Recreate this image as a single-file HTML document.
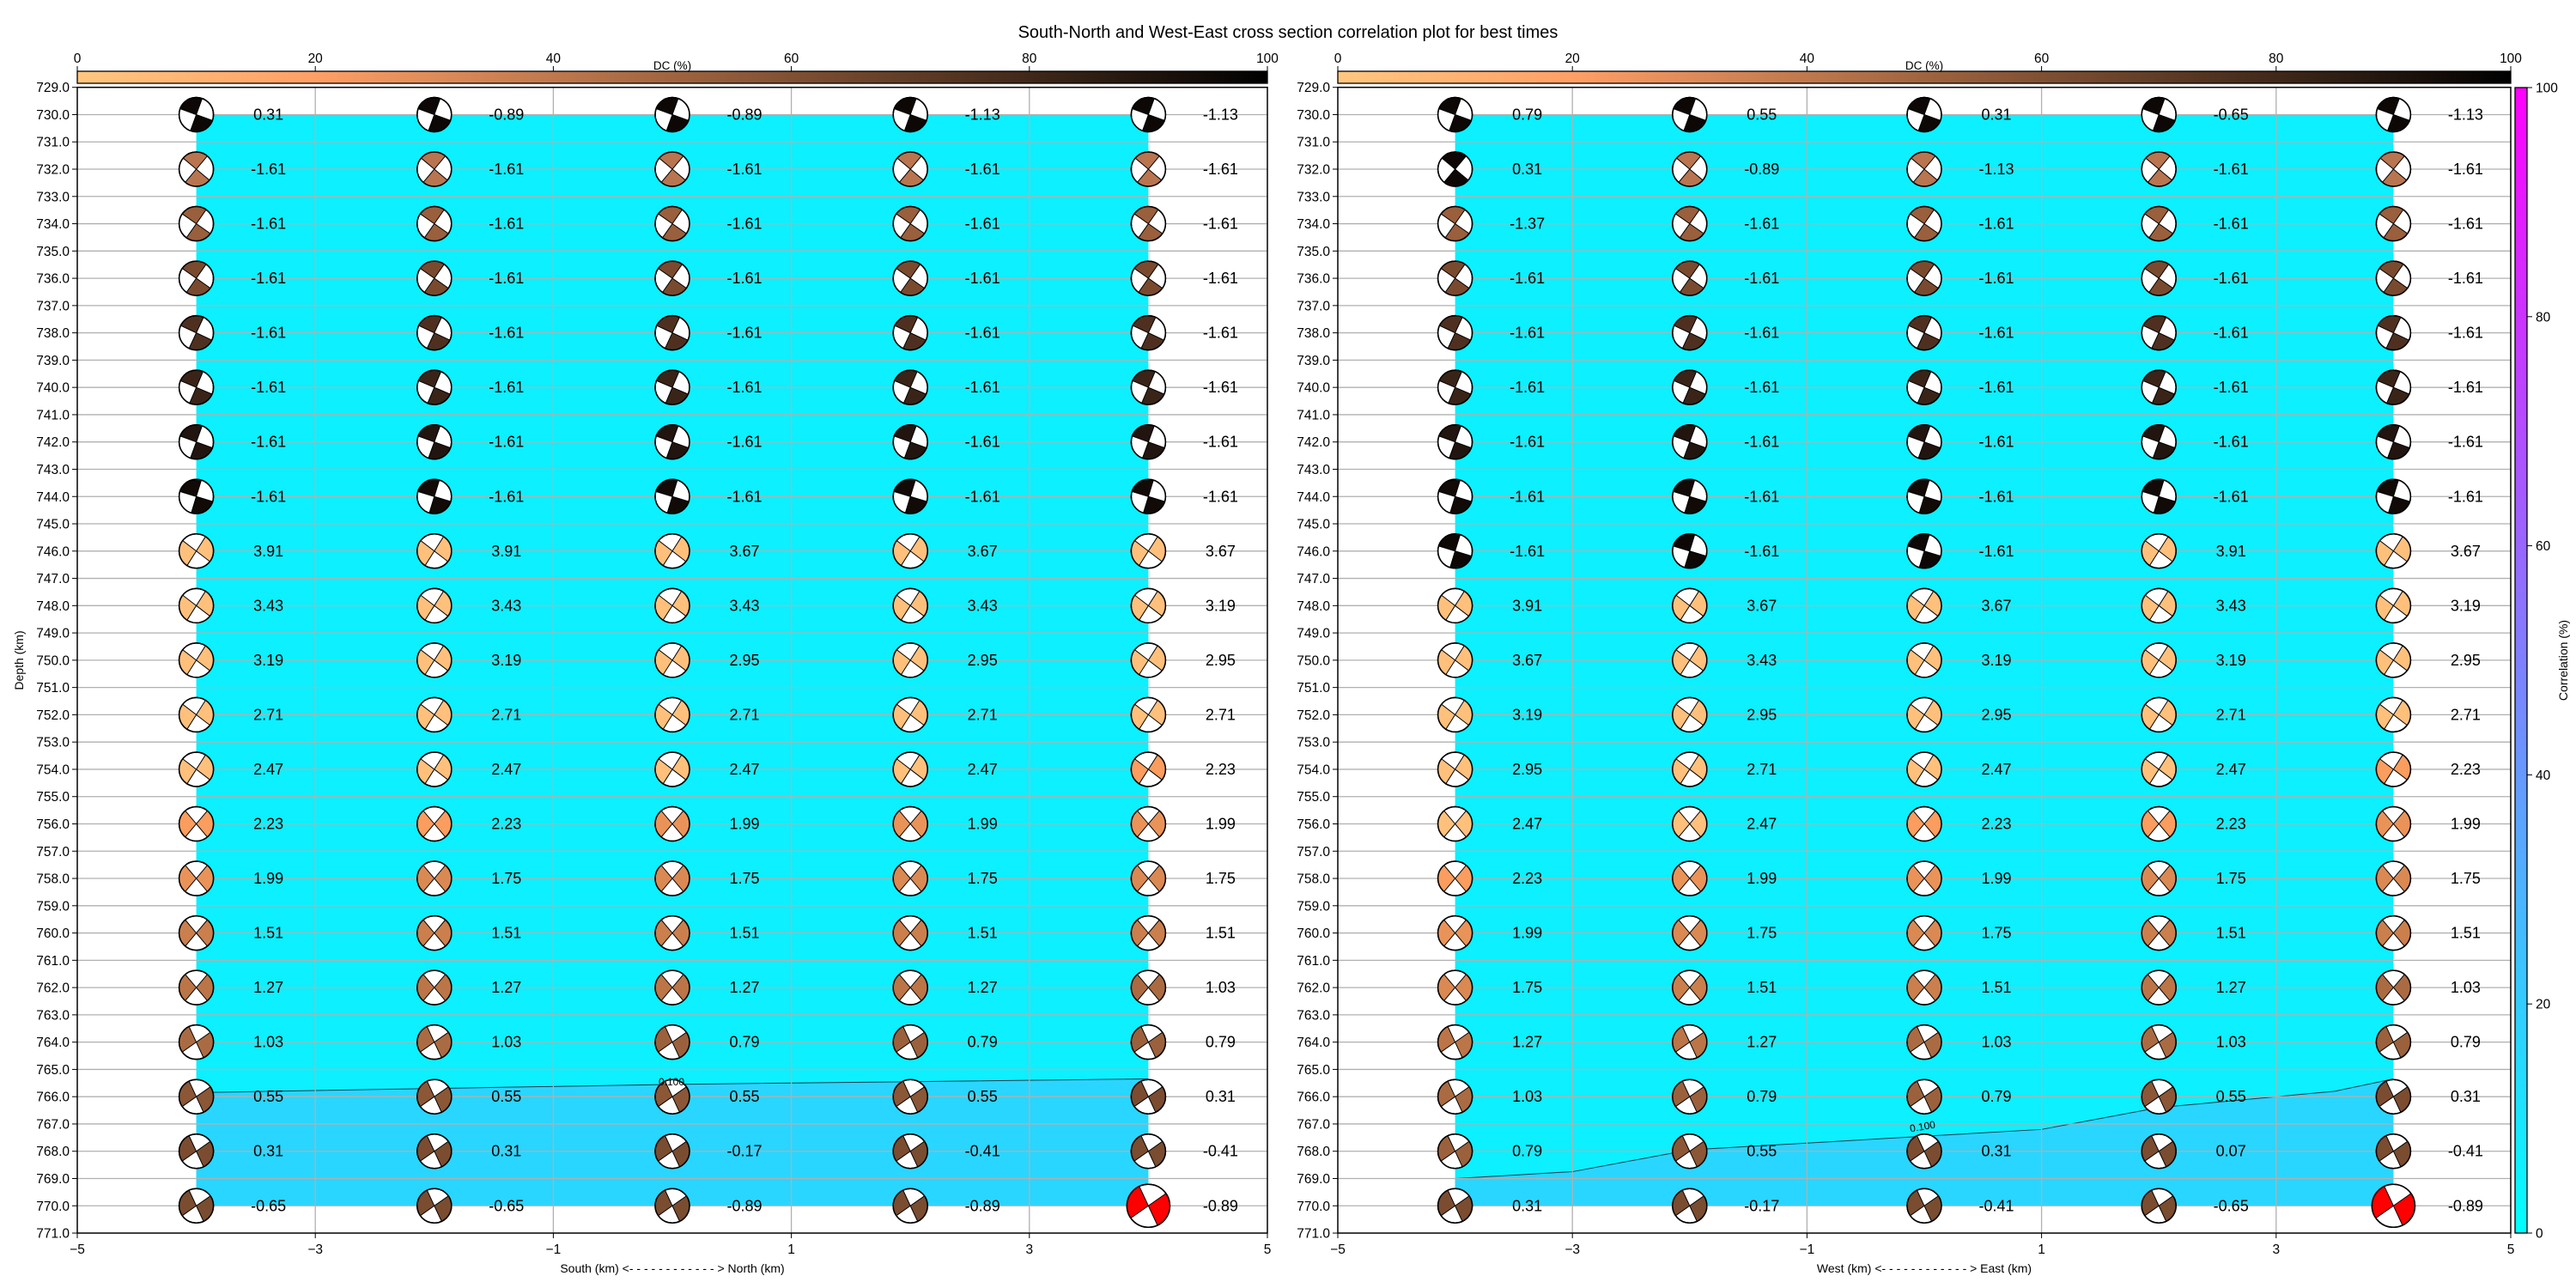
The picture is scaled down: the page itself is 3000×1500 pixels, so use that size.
<!DOCTYPE html>
<html><head><meta charset="utf-8"><style>body{margin:0;background:#fff}svg{display:block}text{font-family:"Liberation Sans","DejaVu Sans",sans-serif}</style></head>
<body>
<svg id="s" width="3000" height="1500" xmlns="http://www.w3.org/2000/svg"></svg>
<script>
const S=document.getElementById('s');let h='';
const Y=d=>101.7+(d-729)*31.77;
function copper(t){const u=1-t;return `rgb(${Math.round(255*Math.min(1,1.25*u))},${Math.round(255*0.7812*u)},${Math.round(255*0.4975*u)})`;}
function sector(cx,cy,r,a,w,col){const a1=(a-w/2)*Math.PI/180,a2=(a+w/2)*Math.PI/180;
 return `<path d="M${cx},${cy} L${cx+r*Math.cos(a1)},${cy+r*Math.sin(a1)} A${r},${r} 0 0 1 ${cx+r*Math.cos(a2)},${cy+r*Math.sin(a2)} Z" fill="${col}" stroke="#000" stroke-width="1"/>`;}
function ball(cx,cy,r,a,w,col){return `<circle cx="${cx}" cy="${cy}" r="${r}" fill="#fff" stroke="#000" stroke-width="1.5"/>`+sector(cx,cy,r,a,w,col)+sector(cx,cy,r,a+180,w,col)+`<circle cx="${cx}" cy="${cy}" r="${r}" fill="none" stroke="#000" stroke-width="1.5"/>`;}
const upCol={730:'#0d0806',732:'#b87550',734:'#9a5f3c',736:'#7a4a2f',738:'#4f3020',740:'#3a2418',742:'#22140e',744:'#110a06',746:'#0d0806'};
const upAng={730:-115,732:-95,734:-100,736:-100,738:-110,740:-112,742:-115,744:-118,746:-118};
function lowCol(v){if(v>=2.4)return '#ffc07c';const t=Math.max(0,Math.min(1,(v-0.3)/2.0));
 const a=[0x7a,0x4c,0x30],b=[0xff,0xa0,0x60];return `rgb(${a.map((x,i)=>Math.round(x+(b[i]-x)*t)).join(',')})`;}
const L={730:[0.31,-0.89,-0.89,-1.13,-1.13],746:[3.91,3.91,3.67,3.67,3.67],748:[3.43,3.43,3.43,3.43,3.19],750:[3.19,3.19,2.95,2.95,2.95],752:[2.71,2.71,2.71,2.71,2.71],754:[2.47,2.47,2.47,2.47,2.23],756:[2.23,2.23,1.99,1.99,1.99],758:[1.99,1.75,1.75,1.75,1.75],760:[1.51,1.51,1.51,1.51,1.51],762:[1.27,1.27,1.27,1.27,1.03],764:[1.03,1.03,0.79,0.79,0.79],766:[0.55,0.55,0.55,0.55,0.31],768:[0.31,0.31,-0.17,-0.41,-0.41],770:[-0.65,-0.65,-0.89,-0.89,-0.89]};
for(let d=732;d<=744;d+=2)L[d]=[-1.61,-1.61,-1.61,-1.61,-1.61];
const R={730:[0.79,0.55,0.31,-0.65,-1.13],732:[0.31,-0.89,-1.13,-1.61,-1.61],734:[-1.37,-1.61,-1.61,-1.61,-1.61],746:[-1.61,-1.61,-1.61,3.91,3.67],748:[3.91,3.67,3.67,3.43,3.19],750:[3.67,3.43,3.19,3.19,2.95],752:[3.19,2.95,2.95,2.71,2.71],754:[2.95,2.71,2.47,2.47,2.23],756:[2.47,2.47,2.23,2.23,1.99],758:[2.23,1.99,1.99,1.75,1.75],760:[1.99,1.75,1.75,1.51,1.51],762:[1.75,1.51,1.51,1.27,1.03],764:[1.27,1.27,1.03,1.03,0.79],766:[1.03,0.79,0.79,0.55,0.31],768:[0.79,0.55,0.31,0.07,-0.41],770:[0.31,-0.17,-0.41,-0.65,-0.89]};
for(let d=736;d<=744;d+=2)R[d]=[-1.61,-1.61,-1.61,-1.61,-1.61];
function panel(x0,x1,vals,contour,xlabel,right){
 const X=v=>x0+(v+5)*(x1-x0)/10;
 h+=`<rect x="${X(-4)}" y="${Y(730)}" width="${X(4)-X(-4)}" height="${Y(770)-Y(730)}" fill="#0cf0ff"/>`;
 let p=`M${X(-4)},${Y(770)} `+contour.map(c=>`L${X(c[0])},${Y(c[1])}`).join(' ')+` L${X(4)},${Y(770)} Z`;
 h+=`<path d="${p}" fill="#29d6ff"/>`;
 h+=`<polyline points="${contour.map(c=>X(c[0])+','+Y(c[1])).join(' ')}" fill="none" stroke="#1a3a50" stroke-width="1"/>`;
 for(let d=730;d<=770;d++)h+=`<line x1="${x0}" x2="${x1}" y1="${Y(d)}" y2="${Y(d)}" stroke="#b0b0b0" stroke-width="1.3"/>`;
 for(const v of [-3,-1,1,3])h+=`<line x1="${X(v)}" x2="${X(v)}" y1="${Y(729)}" y2="${Y(771)}" stroke="#b0b0b0" stroke-width="1.3"/>`;
 for(let d=730;d<=770;d+=2){const row=vals[d];for(let i=0;i<5;i++){const v=row[i];const cx=X(-4+2*i),cy=Y(d);
  let col,a,w=90,r=20;
  const upper=d<746||(d==746&&v<0);
  if(upper){col=upCol[d];a=upAng[d];if(right&&(d==730||(d==732&&i==0)))col='#0d0806';if(d==746)col='#0d0806';}
  else{col=lowCol(v);a=d<756?170:(d<764?180:195);w=d<756?95:100;}
  if(d==770&&i==4){col='#ff0000';r=25;a=195;}
  h+=ball(cx,cy,r,a,w,col);
  h+=`<text x="${cx+84}" y="${cy+6}" font-size="18" text-anchor="middle">${v.toFixed(2)}</text>`;}}
 h+=`<rect x="${x0}" y="${Y(729)}" width="${x1-x0}" height="${Y(771)-Y(729)}" fill="none" stroke="#000" stroke-width="1.5"/>`;
 for(let d=729;d<=771;d++){h+=`<line x1="${x0-6}" x2="${x0}" y1="${Y(d)}" y2="${Y(d)}" stroke="#000"/>`;
  h+=`<text x="${x0-9}" y="${Y(d)+5.5}" font-size="15.5" text-anchor="end">${d}.0</text>`;}
 for(const v of [-5,-3,-1,1,3,5]){h+=`<line x1="${X(v)}" x2="${X(v)}" y1="${Y(771)}" y2="${Y(771)+6}" stroke="#000"/>`;
  h+=`<text x="${X(v)}" y="${Y(771)+24}" font-size="15.5" text-anchor="middle">${v<0?'\u2212'+(-v):v}</text>`;}
 h+=`<text x="${(x0+x1)/2}" y="1482" font-size="14" text-anchor="middle">${xlabel}</text>`;
 h+=`<rect x="${x0}" y="83" width="${x1-x0}" height="14" fill="url(#dc)" stroke="#000" stroke-width="1.3"/>`;
 for(let k=0;k<=100;k+=20){const xx=x0+k/100*(x1-x0);h+=`<line x1="${xx}" x2="${xx}" y1="77" y2="83" stroke="#000"/><text x="${xx}" y="73" font-size="15.5" text-anchor="middle">${k}</text>`;}
 h+=`<text x="${(x0+x1)/2}" y="81" font-size="13.5" text-anchor="middle">DC (%)</text>`;
}
let stops='';for(let k=0;k<=10;k++)stops+=`<stop offset="${k/10}" stop-color="${copper(k/10)}"/>`;
h+=`<defs><linearGradient id="dc">${stops}</linearGradient><linearGradient id="cool" x1="0" y1="1" x2="0" y2="0"><stop offset="0" stop-color="#00ffff"/><stop offset="1" stop-color="#ff00ff"/></linearGradient></defs>`;
panel(90,1476,L,[[-4,765.85],[-2,765.7],[0,765.55],[2,765.45],[4,765.35]],'South (km) &lt;- - - - - - - - - - - - &gt; North (km)',false);
panel(1558,2924,R,[[-4,769.0],[-3,768.75],[-2,767.95],[-1,767.7],[0,767.45],[1,767.2],[2,766.4],[3,766.0],[3.5,765.8],[4,765.35]],'West (km) &lt;- - - - - - - - - - - - &gt; East (km)',true);
h+=`<text x="782" y="1264" font-size="12" text-anchor="middle">0.100</text>`;
h+=`<text x="2239" y="1316" font-size="12" text-anchor="middle" transform="rotate(-10 2239 1312)">0.100</text>`;
h+=`<rect x="2929" y="102" width="14" height="1334" fill="url(#cool)" stroke="#000" stroke-width="1.3"/>`;
for(let k=0;k<=100;k+=20){const yy=1436-k/100*1334;h+=`<line x1="2943" x2="2949" y1="${yy}" y2="${yy}" stroke="#000"/><text x="2953" y="${yy+5.5}" font-size="15.5">${k}</text>`;}
h+=`<text transform="translate(2990 769) rotate(-90)" font-size="14" text-anchor="middle">Correlation (%)</text>`;
h+=`<text transform="translate(27 769) rotate(-90)" font-size="14" text-anchor="middle">Depth (km)</text>`;
h+=`<text x="1500" y="44" font-size="20" text-anchor="middle">South-North and West-East cross section correlation plot for best times</text>`;
S.innerHTML=h;
</script>
</body></html>
